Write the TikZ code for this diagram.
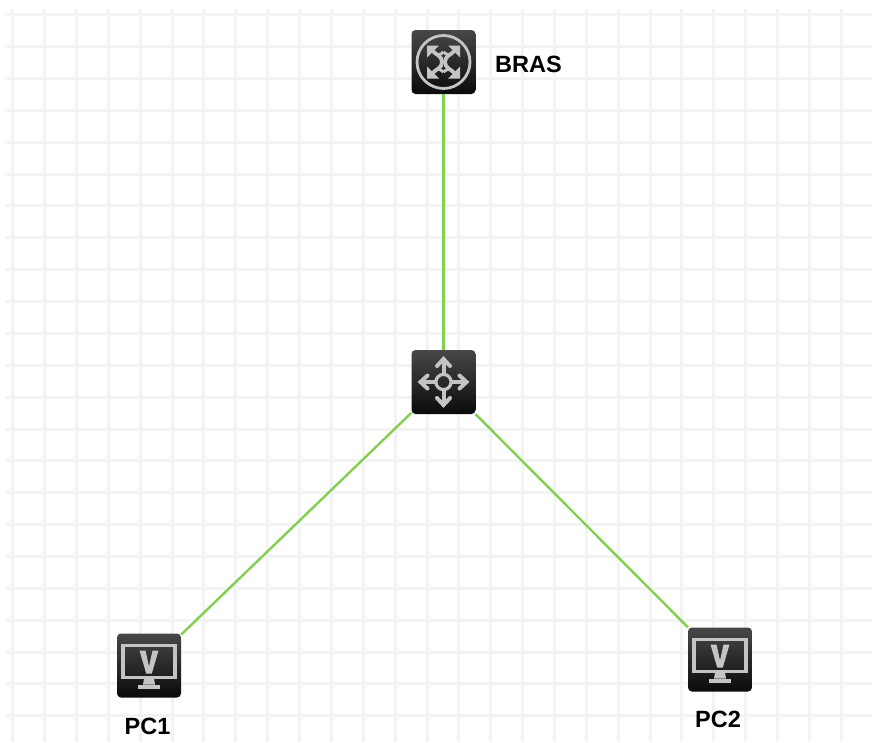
\documentclass[tikz,border=0pt]{standalone}
\usepackage{fontspec}
\setmainfont{Liberation Sans}
\definecolor{gridc}{HTML}{F3F3F3}
\definecolor{linkc}{HTML}{84CF50}
\definecolor{iconc}{HTML}{C4C4C4}
\tikzset{
  x=1pt,y=-1pt,
  device/.style={draw=none,rounded corners=4pt,minimum size=64pt,inner sep=0pt,top color=black!72,middle color=black!86,bottom color=black!96},
  link/.style={draw=linkc,line width=2.4pt},
  devlabel/.style={font=\fontsize{23.5}{23.5}\selectfont\bfseries,text=black,inner sep=0pt},
  routerpic/.pic={
    \draw[iconc,line width=2.8pt] (0,0) circle[radius=26.5pt];
    \foreach \r/\s in {0/1,90/-1,180/1,270/-1}{
      \begin{scope}[rotate=\r]
        \fill[iconc] (-16.5,-16.5) -- (-4.5,-16.5) -- (-8.5,-12.5) -- (-12.5,-8.5) -- (-16.5,-4.5) -- cycle;
      \end{scope}
    }
    \foreach \sx in {1,-1}{
      \draw[iconc,line width=3.8pt,xscale=\sx] (-11,-11) .. controls (-7,-7) and (-1.5,-6) .. (-1.5,0) .. controls (-1.5,6) and (-7,7) .. (-11,11);
      \draw[iconc,line width=3pt,xscale=\sx] (-9,-9) .. controls (-5,-5) and (-3,-8) .. (0,-10);
      \draw[iconc,line width=3pt,xscale=\sx] (-9,9) .. controls (-5,5) and (-3,8) .. (0,10);
    }
  },
  switchpic/.pic={
    \draw[iconc,line width=3.2pt] (0,0) circle[radius=7.6pt];
    \foreach \r in {0,90,180,270}{
      \begin{scope}[rotate=\r]
        \draw[iconc,line width=4pt] (0,-8) -- (0,-22);
        \draw[iconc,line width=4pt,line cap=round,line join=miter] (-6.5,-16) -- (0,-23) -- (6.5,-16);
      \end{scope}
    }
  },
  pcpic/.pic={
    \draw[iconc,line width=3.2pt] (-26,-20) rectangle (26,12);
    \fill[iconc] (-9.5,-15) -- (-3.5,-15) -- (0,1) -- (3.5,-15) -- (9.5,-15) -- (2.8,8) -- (-2.8,8) -- cycle;
    \fill[iconc] (-5,13) -- (5,13) -- (6,19) -- (-6,19) -- cycle;
    \fill[iconc] (-11,19) rectangle (11,23);
  }
}
\begin{document}
\begin{tikzpicture}
\useasboundingbox[fill=white] (0,0) rectangle (872,742);
\foreach \i in {0,...,26}{
  \draw[gridc,line width=3pt] ({12.7+31.87*\i},9) -- ({12.7+31.87*\i},742);
}
\foreach \i in {0,...,22}{
  \draw[gridc,line width=3pt] (5,{14.7+31.87*\i}) -- (872,{14.7+31.87*\i});
}
\node[device] (bras) at (443.5,62) {};
\node[device] (sw) at (443.5,382) {};
\node[device] (pc1) at (149,665.5) {};
\node[device] (pc2) at (720,659.5) {};
\pic at (bras.center) {routerpic};
\pic at (sw.center) {switchpic};
\pic at (pc1.center) {pcpic};
\pic at (pc2.center) {pcpic};
\draw[link] (bras) -- (sw);
\draw[link] (sw) -- (pc1);
\draw[link] (sw) -- (pc2);
\node[devlabel,anchor=center] (lbras) at (528.5,64) {BRAS};
\node[devlabel,anchor=center] (lpc1) at (147.5,726) {PC1};
\node[devlabel,anchor=center] (lpc2) at (718,719) {PC2};
\end{tikzpicture}
\end{document}
